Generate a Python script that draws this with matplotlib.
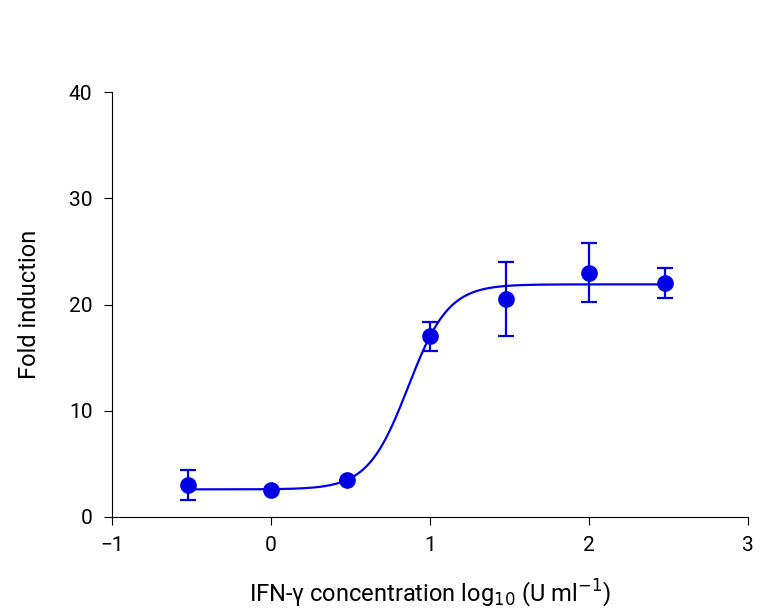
import numpy as np
import matplotlib
matplotlib.use("Agg")
import matplotlib.pyplot as plt

plt.rcParams["font.family"] = "Roboto"

log_conc = [-0.52, 0.0, 0.48, 1.0, 1.48, 2.0, 2.48]
fold = [3.0, 2.5, 3.5, 17.0, 20.5, 23.0, 22.0]
err = [1.4, 0.3, 0.3, 1.4, 3.5, 2.8, 1.4]
# sigmoid fit parameters
bottom, top, ec50, hill = 2.6, 21.9, 0.863, 3.42

color = "#0000e6"
fig = plt.figure(figsize=(7.69, 6.14), dpi=100)
ax = fig.add_axes([0.1456, 0.158, 0.827, 0.692])

xs = np.linspace(min(log_conc), max(log_conc), 400)
ys = bottom + (top - bottom) / (1 + 10 ** ((ec50 - xs) * hill))
ax.plot(xs, ys, color=color, lw=1.6)
ax.errorbar(log_conc, fold, yerr=[e if e > 0.5 else 0 for e in err], fmt="o",
            color=color, ms=11, capsize=6, elinewidth=1.6, capthick=1.6)

ax.set_xlim(-1, 3)
ax.set_ylim(0, 40)
ax.set_xticks([-1, 0, 1, 2, 3])
ax.set_xticklabels(["\u22121", "0", "1", "2", "3"])
ax.set_yticks([0, 10, 20, 30, 40])
for s in ["top", "right"]:
    ax.spines[s].set_visible(False)
ax.tick_params(direction="out", length=6, labelsize=15, pad=8)
ax.set_xlabel("IFN-\u03b3 concentration log$_{10}$ (U ml$^{-1}$)", fontsize=17, labelpad=16)
ax.set_ylabel("Fold induction", fontsize=17, labelpad=20)
fig.savefig("out.png", dpi=100)
